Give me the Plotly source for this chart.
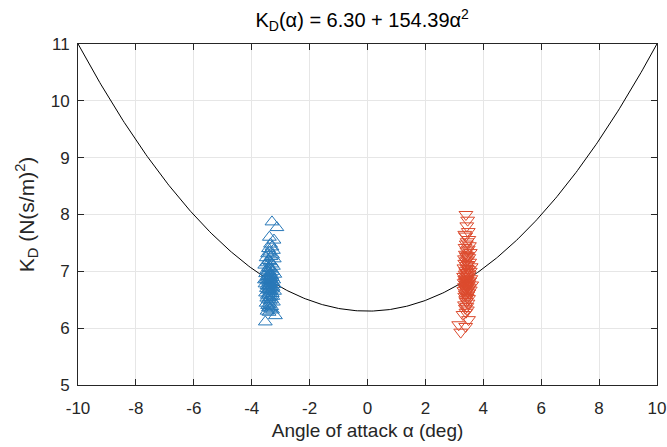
import numpy as np
import plotly.graph_objects as go

# Fitted drag model K_D(alpha) = K0 + K2 * alpha^2 (alpha in rad)
K0 = 6.30
K2 = 154.39

# Measurements at negative angle of attack (deg, (N(s/m))^2)
neg_alpha = [-3.30, -3.13, -3.53, -3.18,
             -3.35, -3.30, -3.42, -3.25, -3.38, -3.45, -3.28, -3.33, -3.50, -3.22,
             -3.40, -3.36, -3.47, -3.30, -3.55, -3.25, -3.42, -3.38, -3.32, -3.48,
             -3.27, -3.44, -3.35, -3.52, -3.20, -3.40, -3.31, -3.46, -3.37, -3.29,
             -3.43, -3.34, -3.50, -3.24, -3.39, -3.45, -3.33, -3.28, -3.41, -3.36,
             -3.54, -3.22, -3.38, -3.47, -3.31, -3.42, -3.26, -3.35, -3.49, -3.30,
             -3.40, -3.44, -3.33, -3.21, -3.37, -3.52, -3.29, -3.41, -3.46, -3.34,
             -3.27, -3.39, -3.48, -3.32, -3.43, -3.36, -3.25, -3.50, -3.38, -3.45,
             -3.31, -3.42, -3.35, -3.28, -3.47, -3.40, -3.33, -3.56, -3.23, -3.39]
neg_kd = [7.87, 7.77, 6.11, 6.22,
          7.48, 7.43, 7.40, 7.37, 7.34, 7.31, 7.29, 7.26, 7.24, 7.22,
          7.19, 7.17, 7.15, 7.13, 7.11, 7.09, 7.07, 7.05, 7.04, 7.02,
          7.00, 6.99, 6.97, 6.96, 6.95, 6.93, 6.92, 6.91, 6.90, 6.89,
          6.88, 6.87, 6.86, 6.85, 6.84, 6.83, 6.82, 6.81, 6.80, 6.79,
          6.78, 6.77, 6.76, 6.75, 6.74, 6.73, 6.72, 6.71, 6.70, 6.69,
          6.68, 6.67, 6.66, 6.65, 6.64, 6.62, 6.61, 6.60, 6.58, 6.57,
          6.56, 6.54, 6.53, 6.51, 6.50, 6.48, 6.46, 6.44, 6.42, 6.40,
          6.38, 6.36, 6.34, 6.32, 6.30, 6.28, 6.93, 6.85, 7.55, 7.60]

# Measurements at positive angle of attack
pos_alpha = [3.40, 3.46, 3.43, 3.48, 3.39, 3.50, 3.44, 3.41, 3.52, 3.37,
             3.48, 3.43, 3.55, 3.38, 3.46, 3.42, 3.50, 3.35, 3.45, 3.40,
             3.53, 3.36, 3.47, 3.42, 3.58, 3.33, 3.44, 3.49, 3.39, 3.55,
             3.41, 3.46, 3.37, 3.51, 3.43, 3.32, 3.48, 3.40, 3.57, 3.36,
             3.45, 3.42, 3.53, 3.38, 3.47, 3.34, 3.44, 3.50, 3.39, 3.60,
             3.41, 3.46, 3.35, 3.52, 3.43, 3.37, 3.48, 3.40, 3.55, 3.33,
             3.45, 3.42, 3.50, 3.38, 3.46, 3.36, 3.44, 3.49, 3.39, 3.41,
             3.47, 3.35, 3.43, 3.38, 3.45, 3.40, 3.30, 3.49, 3.15, 3.39,
             3.22, 3.36]
pos_kd = [8.00, 7.90, 7.80, 7.70, 7.62, 7.56, 7.52, 7.48, 7.45, 7.42,
          7.39, 7.36, 7.33, 7.30, 7.28, 7.26, 7.24, 7.22, 7.20, 7.18,
          7.16, 7.14, 7.12, 7.10, 7.08, 7.06, 7.05, 7.03, 7.01, 7.00,
          6.98, 6.97, 6.95, 6.94, 6.92, 6.91, 6.90, 6.88, 6.87, 6.86,
          6.85, 6.84, 6.83, 6.82, 6.81, 6.80, 6.79, 6.78, 6.77, 6.76,
          6.75, 6.74, 6.73, 6.72, 6.71, 6.70, 6.69, 6.68, 6.67, 6.66,
          6.65, 6.63, 6.62, 6.60, 6.58, 6.56, 6.54, 6.52, 6.50, 6.47,
          6.44, 6.41, 6.38, 6.35, 6.32, 6.28, 6.24, 6.15, 6.06, 6.03,
          5.93, 7.65]

x_ticks = list(range(-10, 11, 2))
y_ticks = list(range(5, 12))

alpha_deg = np.linspace(-10, 10, 401)
kd_fit = K0 + K2 * np.deg2rad(alpha_deg) ** 2

BLUE = "#2878B8"
RED = "#DC4B2E"
INK = "#262626"

fig = go.Figure()
fig.add_trace(go.Scatter(
    x=alpha_deg, y=kd_fit, mode="lines",
    line=dict(color="black", width=1), showlegend=False))
fig.add_trace(go.Scatter(
    x=neg_alpha, y=neg_kd, mode="markers",
    marker=dict(symbol="triangle-up-open", size=12, color=BLUE,
                line=dict(width=1, color=BLUE)),
    showlegend=False))
fig.add_trace(go.Scatter(
    x=pos_alpha, y=pos_kd, mode="markers",
    marker=dict(symbol="triangle-down-open", size=12, color=RED,
                line=dict(width=1, color=RED)),
    showlegend=False))

axis_common = dict(
    showline=True, linecolor=INK, linewidth=1, mirror="ticks",
    ticks="inside", ticklen=6, tickcolor=INK,
    showgrid=True, gridcolor="#E6E6E6", gridwidth=1, zeroline=False,
    tickfont=dict(size=17, color=INK), automargin=False,
)

fig.update_xaxes(range=[-10, 10], tickvals=x_ticks, ticktext=[str(v) for v in x_ticks],
                 ticklabelstandoff=8,
                 title=dict(text="Angle of attack α (deg)", font=dict(size=19, color=INK),
                            standoff=6),
                 **axis_common)
fig.update_yaxes(range=[5, 11], tickvals=y_ticks, ticktext=[str(v) for v in y_ticks],
                 ticklabelstandoff=4,
                 title=dict(text="K<sub>D</sub> (N(s/m)<sup>2</sup>)",
                            font=dict(size=21, color=INK), standoff=10),
                 **axis_common)

fig.update_layout(
    width=667, height=447,
    margin=dict(l=78, r=10, t=44, b=62),
    paper_bgcolor="white", plot_bgcolor="white",
    font=dict(family="Liberation Sans, Arial, sans-serif", color=INK),
    title=dict(text="K<sub>D</sub>(α) = 6.30 + 154.39α<sup>2</sup>",
               x=0.543, xanchor="center", y=0.955, yanchor="middle",
               font=dict(size=20, color="black")),
)

fig.write_html("out.html")
